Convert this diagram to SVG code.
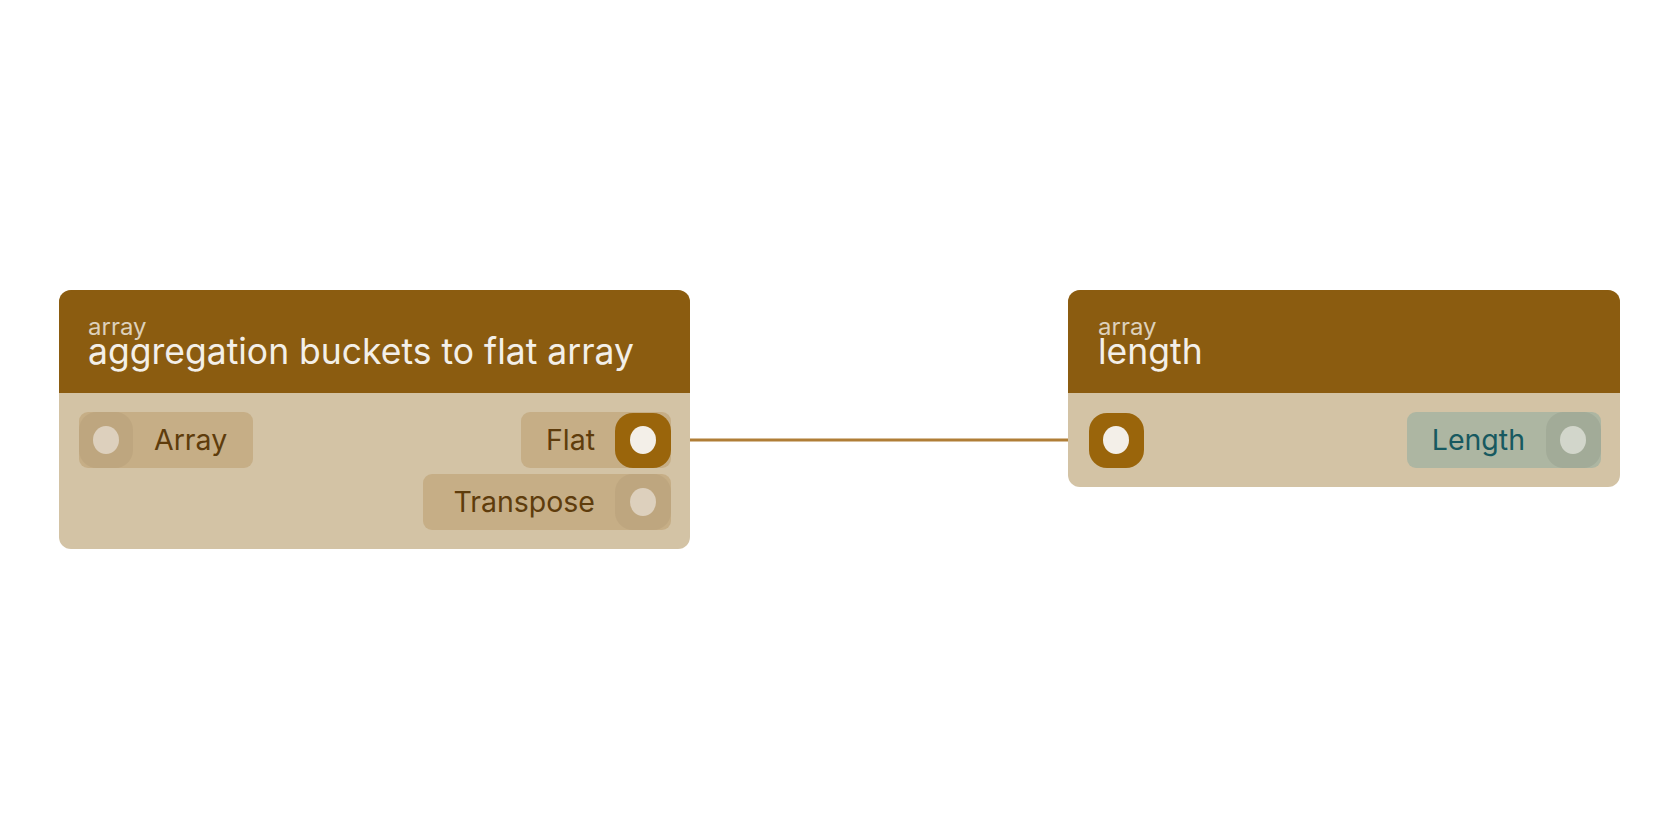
<svg xmlns="http://www.w3.org/2000/svg" width="1680" height="840" viewBox="0 0 1680 840">
<style>
.hdr{fill:#8b5c10}.body{fill:#d3c3a5}
.sub{font-family:Inter,"Liberation Sans",sans-serif;font-size:24px;fill:#ddd0bb}
.ttl{font-family:Inter,"Liberation Sans",sans-serif;font-size:35.5px;fill:#f3efe8}
.pl{font-family:Inter,"Liberation Sans",sans-serif;font-size:28.5px;fill:#5e3c0c}
.pill{fill:#c6ae86}.knob{fill:#bea67f}.dot{fill:#ddd0bd}
</style>
<rect width="1680" height="840" fill="#ffffff"/>
<g id="connectors">
<line x1="671" y1="440" x2="1089" y2="440" stroke="#b07e37" stroke-width="3"/>
</g>
<g id="node-agg">
<rect x="59" y="290" width="631" height="259" rx="12" class="body"/>
<path d="M59 393 V302 a12 12 0 0 1 12 -12 H678 a12 12 0 0 1 12 12 V393 Z" class="hdr"/>
<text x="88" y="335" class="sub">array</text>
<text x="88" y="364" class="ttl">aggregation buckets to flat array</text>
<g id="port-array"><rect x="79" y="412" width="174" height="56" rx="9" class="pill"/><rect x="79" y="412" width="54" height="56" rx="18" class="knob"/><ellipse cx="106" cy="440" rx="13" ry="14" class="dot"/><text x="154" y="450" class="pl">Array</text></g>
<g id="port-flat"><rect x="521" y="412" width="150" height="56" rx="9" class="pill"/><rect x="615" y="413" width="56" height="55" rx="18" fill="#9a650b"/><ellipse cx="643" cy="440" rx="13" ry="14" fill="#f3efe8"/><text x="595" y="450" class="pl" text-anchor="end">Flat</text></g>
<g id="port-transpose"><rect x="423" y="474" width="248" height="56" rx="9" class="pill"/><rect x="615" y="474" width="56" height="56" rx="18" class="knob"/><ellipse cx="643" cy="502" rx="13" ry="14" class="dot"/><text x="595" y="512" class="pl" text-anchor="end">Transpose</text></g>
</g>
<g id="node-length">
<rect x="1068" y="290" width="552" height="197" rx="12" class="body"/>
<path d="M1068 393 V302 a12 12 0 0 1 12 -12 H1608 a12 12 0 0 1 12 12 V393 Z" class="hdr"/>
<text x="1098" y="335" class="sub">array</text>
<text x="1098" y="364" class="ttl">length</text>
<g id="port-in"><rect x="1089" y="413" width="55" height="55" rx="18" fill="#9a650b"/><ellipse cx="1116" cy="440" rx="13" ry="14" fill="#f3efe8"/></g>
<g id="port-length"><rect x="1407" y="412" width="194" height="56" rx="9" fill="#adb6a2"/><rect x="1546" y="412" width="55" height="56" rx="18" fill="#a2ab98"/><ellipse cx="1573" cy="440" rx="13" ry="14" fill="#d2d6cb"/><text x="1525" y="450" class="pl" text-anchor="end" style="fill:#175960">Length</text></g>
</g>
</svg>
